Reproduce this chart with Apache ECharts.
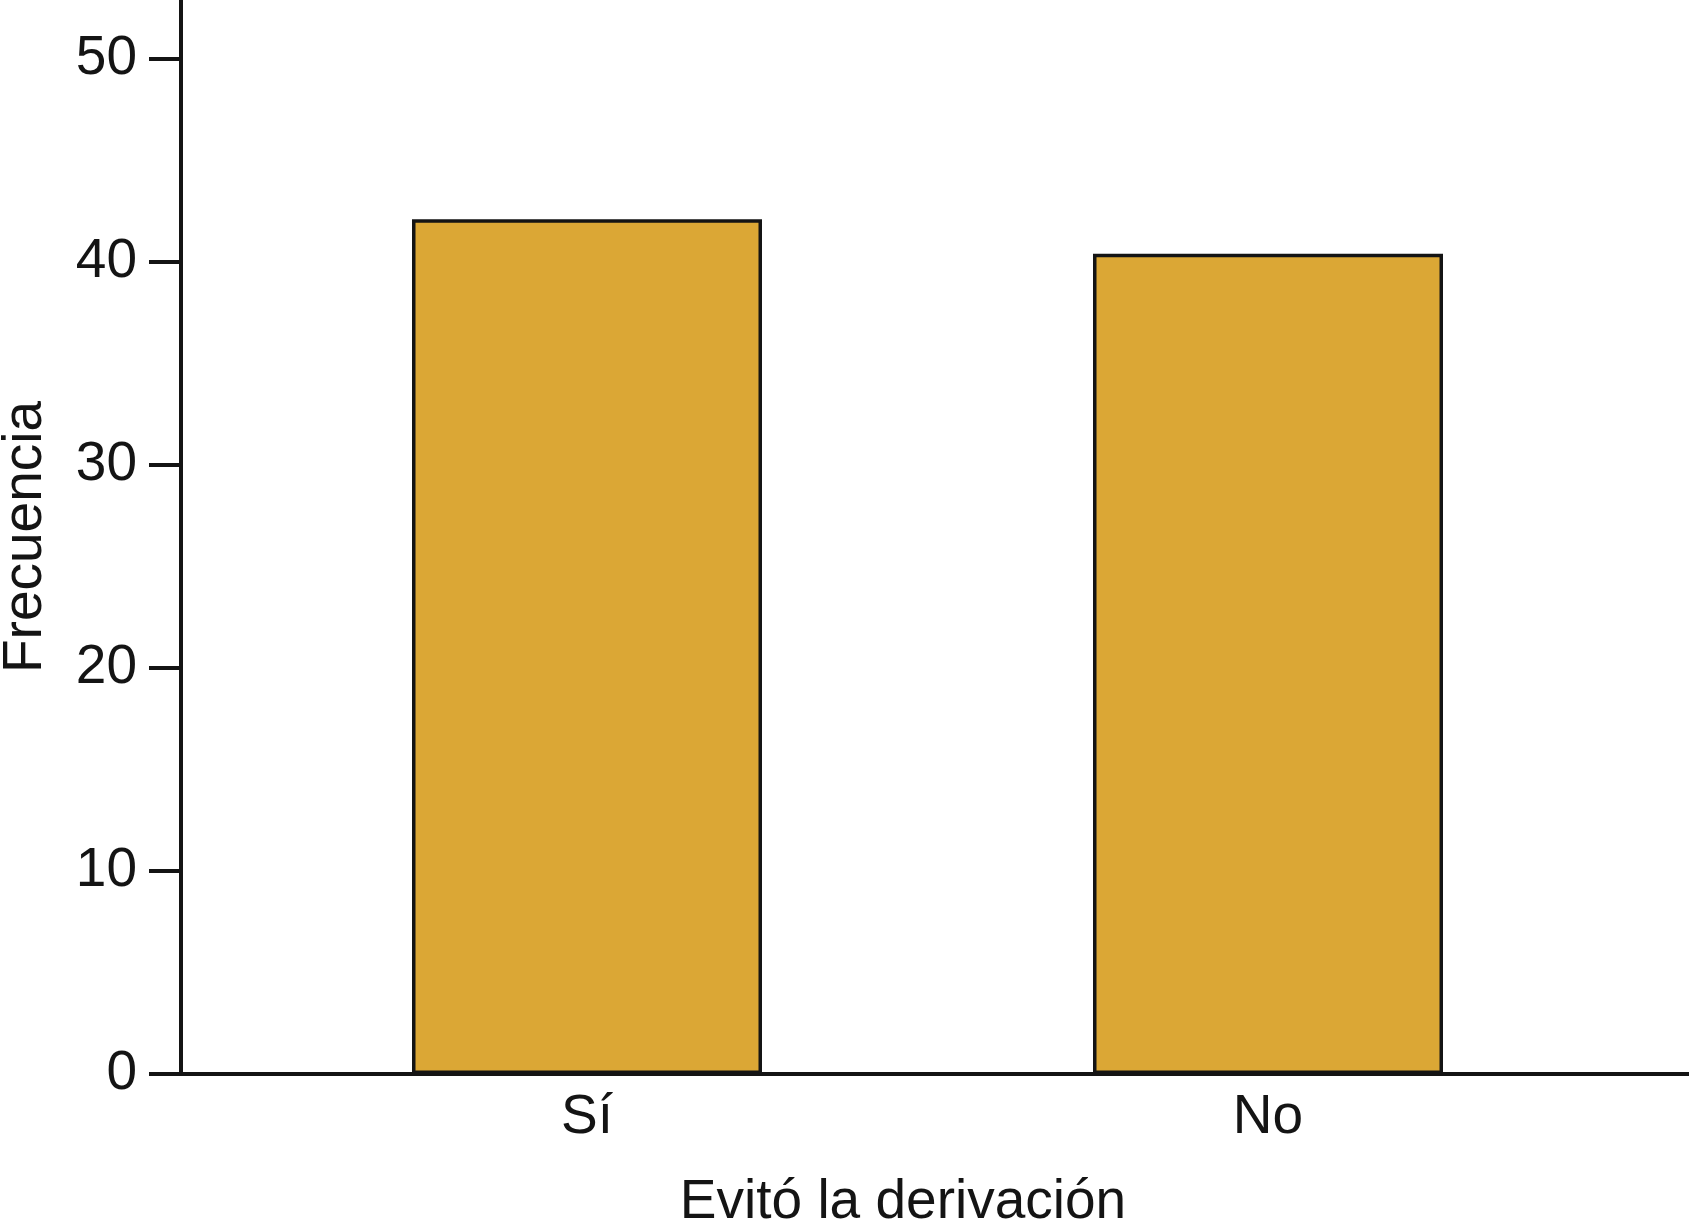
<!DOCTYPE html>
<html>
<head>
<meta charset="utf-8">
<script src="https://cdn.jsdelivr.net/npm/echarts@6/dist/echarts.min.js"></script>
<style>
  html, body { margin: 0; padding: 0; background: #fff; }
  #chartBox { width: 1689px; height: 1219px; }
</style>
</head>
<body>
<div id="chartBox"></div>
<script>
  // datos
  var categorias = ['Sí', 'No'];
  var frecuencias = [42.1, 40.4];
  var yTicks = [0, 10, 20, 30, 40, 50];
  var yMax = 52.9;

  var fuente = '"Liberation Sans", Arial, Helvetica, sans-serif';
  var negro = '#141414';

  var chart = echarts.init(document.getElementById('chartBox'));
  var option = {
    animation: false,
    backgroundColor: '#fff',
    grid: [
      { left: 181, right: 0, top: 0, bottom: 145, outerBoundsMode: 'none' },      // marco con ejes
      { left: 246.5, right: 80.5, top: 0, bottom: 145, outerBoundsMode: 'none' }  // zona de las barras
    ],
    xAxis: [
      {
        gridIndex: 0,
        type: 'value',
        min: 0,
        max: 1,
        axisLine: { show: true, lineStyle: { color: negro, width: 4 } },
        axisTick: { show: false },
        axisLabel: { show: false },
        splitLine: { show: false },
        name: 'Evitó la derivación',
        nameLocation: 'middle',
        nameGap: 101,
        nameTextStyle: {
          fontFamily: fuente,
          fontSize: 55,
          color: negro,
          padding: [0, 64, 0, 0]
        }
      },
      {
        gridIndex: 1,
        type: 'category',
        data: categorias,
        axisLine: { show: false },
        axisTick: { show: false },
        axisLabel: { margin: 16, fontFamily: fuente, fontSize: 55, color: negro }
      }
    ],
    yAxis: [
      {
        gridIndex: 0,
        type: 'value',
        min: 0,
        max: yMax,
        axisLine: { show: true, lineStyle: { color: negro, width: 4 } },
        axisTick: {
          show: true,
          length: 32,
          customValues: yTicks,
          lineStyle: { color: negro, width: 4 }
        },
        axisLabel: {
          customValues: yTicks,
          margin: 44,
          fontFamily: fuente,
          fontSize: 55,
          color: negro
        },
        splitLine: { show: false },
        name: 'Frecuencia',
        nameLocation: 'middle',
        nameGap: 128,
        nameTextStyle: { fontFamily: fuente, fontSize: 55, color: negro }
      },
      { gridIndex: 1, type: 'value', min: 0, max: yMax, show: false }
    ],
    series: [
      {
        type: 'bar',
        xAxisIndex: 1,
        yAxisIndex: 1,
        data: frecuencias,
        barWidth: 350,
        itemStyle: { color: '#dba735', borderColor: negro, borderWidth: 3.5 }
      }
    ]
  };
  chart.setOption(option);
</script>
</body>
</html>
